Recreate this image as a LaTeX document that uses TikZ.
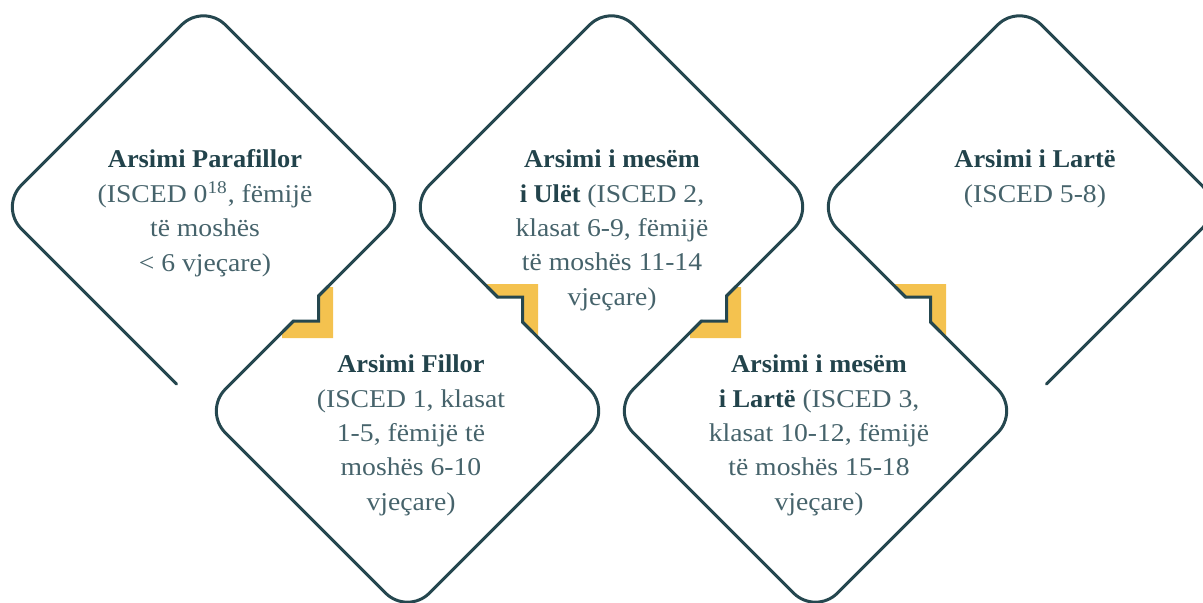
\documentclass[tikz,border=0pt]{standalone}
\usepackage{fontspec}
\setmainfont{Liberation Serif}[FakeStretch=1.08,BoldFeatures={FakeStretch=1.03}]
\definecolor{linec}{HTML}{25474F}
\definecolor{goldc}{HTML}{F4C24F}
\definecolor{titlec}{HTML}{22434B}
\definecolor{bodyc}{HTML}{46636B}
\newcommand\mytitle[1]{{\bfseries\color{titlec}#1}}
\begin{document}
\begin{tikzpicture}[x=0.5pt,y=-0.5pt,
  outline/.style={draw=linec,line width=1.5pt,rounded corners=15.5pt,line cap=round},
  notchline/.style={draw=linec,line width=1.5pt,sharp corners,line join=miter},
  goldshade/.style={fill=goldc,draw=none},
  lbl/.style={align=center,anchor=north,inner sep=0pt,text=bodyc,
    font=\fontsize{12.8}{17.2}\selectfont}]
\useasboundingbox (0,0) rectangle (1203,602);
\clip (0,0) rectangle (1203,602);
% yellow corner marks
\foreach \s in {0,408}{
  \begin{scope}[shift={(\s,0)}]
    \fill[goldshade] (327.5,287) -- (333,287) -- (333,338) -- (282,338) -- (282,332.5)
      -- (293.5,321) -- (318.5,321) -- (318.5,296) -- cycle;
    \fill[goldshade] (487,284) -- (538,284) -- (538,335) -- (535.5,335) -- (522.5,322)
      -- (522.5,297) -- (497.5,297) -- (487,286.5) -- cycle;
  \end{scope}
}
% diamond outlines
\coordinate (e1) at (176.5,384);
\coordinate (e5) at (1046.5,384);
\draw[outline] (e1) -- (-0.5,207) -- (203.5,3) -- (407.5,207) -- (318.5,296);
\draw[outline] (293.5,321) -- (203.5,411) -- (407.5,615) -- (611.5,411) -- (522.5,322);
\draw[outline] (497.5,297) -- (407.5,207) -- (611.5,3) -- (815.5,207) -- (726.5,296);
\draw[outline] (701.5,321) -- (611.5,411) -- (815.5,615) -- (1019.5,411) -- (930.5,322);
\draw[outline] (905.5,297) -- (815.5,207) -- (1019.5,3) -- (1223.5,207) -- (e5);
% steps
\foreach \s in {0,408}{
  \begin{scope}[shift={(\s,0)}]
    \draw[notchline] (328.5,286) -- (318.5,296) -- (318.5,321) -- (293.5,321) -- (283.5,331);
    \draw[notchline] (487.5,287) -- (497.5,297) -- (522.5,297) -- (522.5,322) -- (532.5,332);
  \end{scope}
}
% texts
\node[lbl] (t1) at (205,149.5) {\mytitle{Arsimi Parafillor}\\(ISCED 0\textsuperscript{18}, fëmijë\\të moshës\\< 6 vjeçare)};
\node[lbl] (t2) at (411,354.5) {\mytitle{Arsimi Fillor}\\(ISCED 1, klasat\\1-5, fëmijë të\\moshës 6-10\\vjeçare)};
\node[lbl] (t3) at (612,149.5) {\mytitle{Arsimi i mesëm}\\\mytitle{i Ulët} (ISCED 2,\\klasat 6-9, fëmijë\\të moshës 11-14\\vjeçare)};
\node[lbl] (t4) at (819,354.5) {\mytitle{Arsimi i mesëm}\\\mytitle{i Lartë} (ISCED 3,\\klasat 10-12, fëmijë\\të moshës 15-18\\vjeçare)};
\node[lbl] (t5) at (1035,149.5) {\mytitle{Arsimi i Lartë}\\(ISCED 5-8)};
\end{tikzpicture}
\end{document}
